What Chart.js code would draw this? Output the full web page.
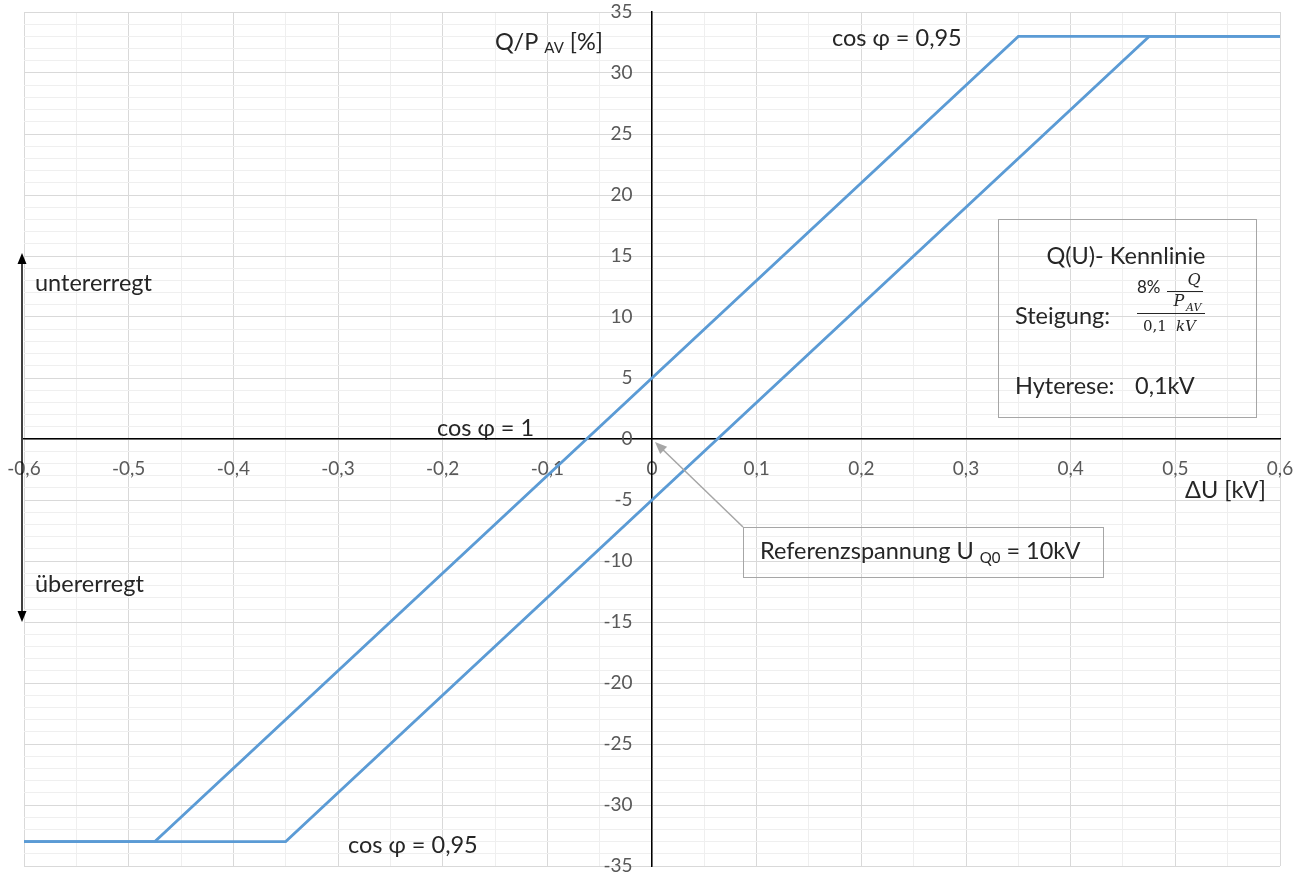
<!DOCTYPE html>
<html>
<head>
<meta charset="utf-8">
<title>Q(U)-Kennlinie</title>
<script src="https://cdn.jsdelivr.net/npm/chart.js@4.4.0/dist/chart.umd.min.js"></script>
<style>
  html, body { margin: 0; padding: 0; background: #fff; }
  #wrap { width: 1305px; height: 879px; }
</style>
</head>
<body>
<div id="wrap"><canvas id="grafico" width="1305" height="879"></canvas></div>
<script>
// Q(U)-Kennlinie - Eckpunkte der beiden Äste (ΔU in kV, Q/P_AV in %)
var duLinks = [-0.6, -0.475, 0.35, 0.6];
var qLinks = [-33, -33, 33, 33];
var duRechts = [-0.6, -0.35, 0.475, 0.6];
var qRechts = [-33, -33, 33, 33];

// Achsen
var xMin = -0.6, xMax = 0.6, xSchritt = 0.05;
var yMin = -35, yMax = 35, ySchritt = 1;

var FONT = 'Lato, "Liberation Sans", sans-serif';
var SERIF = '"DejaVu Serif", "Liberation Serif", serif';
var BLAU = '#5b9bd5';
var TEXT = '#262626';
var GR = 23.5; // Schriftgröße Beschriftungen

function punkte(xs, ys) {
  var out = [];
  for (var i = 0; i < xs.length; i++) out.push({ x: xs[i], y: ys[i] });
  return out;
}

function istHauptX(v) { return Math.round(v * 100) % 10 === 0; }
function istHauptY(v) { return Math.round(v) % 5 === 0; }

// Achsen in der Mitte sollen keinen Platz fressen
function keinPadding(s) {
  s.paddingLeft = 0; s.paddingRight = 0; s.paddingTop = 0; s.paddingBottom = 0;
}

// Texte, Kasten und Pfeile
var beschriftung = {
  id: 'beschriftung',
  afterDraw: function(chart) {
    var ctx = chart.ctx;
    ctx.save();
    ctx.textBaseline = 'middle';
    ctx.fillStyle = TEXT;

    function txt(s, x, y, size, align, font) {
      ctx.font = size + 'px ' + (font || FONT);
      ctx.textAlign = align || 'left';
      ctx.fillText(s, x, y);
      return ctx.measureText(s).width;
    }

    // Achsentitel Y: Q/P AV [%]
    var x = 495;
    x += txt('Q/P ', x, 42, GR);
    x += txt('AV', x, 48, 15);
    txt(' [%]', x, 42, GR);

    // Achsentitel X
    txt('ΔU [kV]', 1185, 490, GR);

    // cos φ Beschriftungen
    txt('cos φ = 0,95', 832, 38, GR);
    txt('cos φ = 1', 437, 428, GR);
    txt('cos φ = 0,95', 348, 845, GR);

    // untererregt / übererregt mit Pfeil
    txt('untererregt', 35, 283, GR);
    txt('übererregt', 35, 584, GR);
    ctx.strokeStyle = '#000';
    ctx.fillStyle = '#000';
    ctx.lineWidth = 1.5;
    ctx.beginPath();
    ctx.moveTo(22, 262);
    ctx.lineTo(22, 612);
    ctx.stroke();
    ctx.beginPath();
    ctx.moveTo(22, 253); ctx.lineTo(17.5, 264); ctx.lineTo(26.5, 264); ctx.closePath();
    ctx.fill();
    ctx.beginPath();
    ctx.moveTo(22, 622); ctx.lineTo(17.5, 611); ctx.lineTo(26.5, 611); ctx.closePath();
    ctx.fill();

    // Kasten Q(U)-Kennlinie
    ctx.strokeStyle = '#a6a6a6';
    ctx.lineWidth = 1;
    ctx.strokeRect(998.5, 219.5, 258, 198);
    ctx.fillStyle = TEXT;
    txt('Q(U)- Kennlinie', 1126, 256, GR, 'center');
    txt('Steigung:', 1015, 316, GR);
    txt('8%', 1137, 288, 17);
    ctx.font = 'italic 16px ' + SERIF;
    ctx.textAlign = 'center';
    ctx.fillText('Q', 1194, 281);
    ctx.fillText('P', 1179, 302);
    ctx.font = 'italic 11px ' + SERIF;
    ctx.textAlign = 'left';
    ctx.fillText('AV', 1186, 308);
    ctx.font = '15px ' + SERIF;
    ctx.fillText('0,1', 1143, 327);
    ctx.font = 'italic 15px ' + SERIF;
    ctx.fillText('kV', 1176, 327);
    ctx.strokeStyle = TEXT;
    ctx.lineWidth = 1;
    ctx.beginPath();
    ctx.moveTo(1167, 291.5); ctx.lineTo(1203, 291.5);
    ctx.moveTo(1137, 313.5); ctx.lineTo(1205, 313.5);
    ctx.stroke();
    txt('Hyterese:', 1015, 386, GR);
    txt('0,1kV', 1135, 386, GR);

    // Kasten Referenzspannung mit Pfeil
    ctx.strokeStyle = '#a6a6a6';
    ctx.strokeRect(743.5, 527.5, 360, 50);
    x = 760;
    x += txt('Referenzspannung U ', x, 551, GR);
    x += txt('Q0', x, 558, 15);
    txt(' = 10kV', x, 551, GR);

    var ox = chart.scales.x.getPixelForValue(0);
    var oy = chart.scales.y.getPixelForValue(0);
    var ax = ox + 3, ay = oy + 3;
    ctx.strokeStyle = '#a6a6a6';
    ctx.fillStyle = '#a6a6a6';
    ctx.lineWidth = 1.5;
    var ang = Math.atan2(ay - 527, ax - 743);
    ctx.beginPath();
    ctx.moveTo(743, 527);
    ctx.lineTo(ax - Math.cos(ang) * 10, ay - Math.sin(ang) * 10);
    ctx.stroke();
    ctx.beginPath();
    ctx.moveTo(ax, ay);
    ctx.lineTo(ax - Math.cos(ang) * 12 + Math.sin(ang) * 5, ay - Math.sin(ang) * 12 - Math.cos(ang) * 5);
    ctx.lineTo(ax - Math.cos(ang) * 12 - Math.sin(ang) * 5, ay - Math.sin(ang) * 12 + Math.cos(ang) * 5);
    ctx.closePath();
    ctx.fill();

    ctx.restore();
  }
};

var ctx = document.getElementById('grafico').getContext('2d');
new Chart(ctx, {
  type: 'scatter',
  data: {
    datasets: [
      { label: 'links', data: punkte(duLinks, qLinks) },
      { label: 'rechts', data: punkte(duRechts, qRechts) }
    ]
  },
  options: {
    responsive: false,
    animation: false,
    showLine: true,
    layout: { padding: { left: 24, right: 25, top: 12, bottom: 13 } },
    elements: {
      line: { borderColor: BLAU, borderWidth: 2.7, tension: 0 },
      point: { radius: 0, hoverRadius: 0 }
    },
    plugins: {
      legend: { display: false },
      tooltip: { enabled: false }
    },
    scales: {
      x: {
        type: 'linear',
        min: xMin, max: xMax,
        position: { y: 0 },
        afterFit: keinPadding,
        border: { color: '#000', width: 1.5 },
        grid: {
          drawTicks: false,
          color: function(c) { return c.tick && istHauptX(c.tick.value) ? '#d9d9d9' : '#efefef'; }
        },
        ticks: {
          stepSize: xSchritt,
          autoSkip: false,
          maxRotation: 0,
          padding: 18,
          color: '#595959',
          font: { family: FONT, size: 19 },
          callback: function(v) {
            if (!istHauptX(v)) return '';
            var r = Math.round(v * 10) / 10;
            return String(r).replace('.', ',');
          }
        }
      },
      y: {
        type: 'linear',
        min: yMin, max: yMax,
        position: { x: 0 },
        afterFit: keinPadding,
        border: { color: '#000', width: 1.5 },
        grid: {
          drawTicks: false,
          color: function(c) { return c.tick && istHauptY(c.tick.value) ? '#d9d9d9' : '#efefef'; }
        },
        ticks: {
          stepSize: ySchritt,
          autoSkip: false,
          color: '#595959',
          font: { family: FONT, size: 19 },
          callback: function(v) {
            // Abstand zur Achse über Leerzeichen, da die Mittelachse kein Padding kennt
            return istHauptY(v) ? String(Math.round(v)) + '    ' : '';
          }
        }
      }
    }
  },
  plugins: [beschriftung]
});
</script>
</body>
</html>
